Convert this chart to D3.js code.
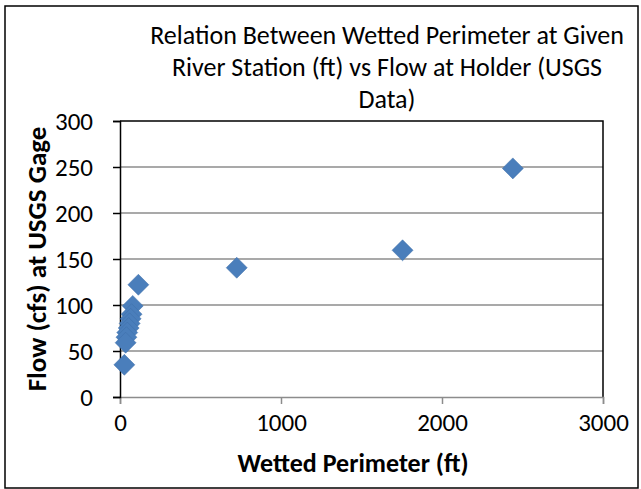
<!DOCTYPE html>
<html>
<head>
<meta charset="utf-8">
<script src="https://cdn.jsdelivr.net/npm/d3@7"></script>
<style>
body { margin: 0; background: #fff; }
text { font-family: Calibri, Carlito, Lato, sans-serif; fill: #000; }
</style>
</head>
<body>
<div class="scatter"></div>
<script>
var svgWidth = 641;
var svgHeight = 489;

var margin = { top: 121, right: 38, bottom: 92, left: 120 };

var width = svgWidth - margin.left - margin.right;
var height = svgHeight - margin.top - margin.bottom;

// data
var wettedPerimeter = [2440, 1755, 725, 114, 79, 72, 66, 60, 54, 45, 40, 35, 27];
var flow = [248.5, 159.5, 140.5, 122, 99, 90, 85, 80, 75, 70, 65, 59, 35];
var xTicks = [0, 1000, 2000, 3000];
var yTicks = [0, 50, 100, 150, 200, 250, 300];
var titleLines = ["Relation Between Wetted Perimeter at Given", "River Station (ft) vs Flow at Holder (USGS", "Data)"];

var points = wettedPerimeter.map((d, i) => ({ x: d, y: flow[i] }));

var svg = d3.select(".scatter")
    .append("svg")
    .attr("width", svgWidth)
    .attr("height", svgHeight);

// outer border
svg.append("rect")
    .attr("x", 5)
    .attr("y", 6)
    .attr("width", 633)
    .attr("height", 482)
    .attr("fill", "none")
    .attr("stroke", "#000")
    .attr("stroke-width", 1.5);

var chart = svg.append("g")
    .attr("transform", "translate(" + margin.left + "," + margin.top + ")");

var xLinearScale = d3.scaleLinear().domain([0, 3000]).range([0, width]);
var yLinearScale = d3.scaleLinear().domain([0, 300]).range([height, 0]);

// gridlines
chart.selectAll(".grid")
    .data(yTicks.filter(d => d > 0 && d < 300))
    .enter()
    .append("line")
    .attr("class", "grid")
    .attr("x1", 0)
    .attr("x2", width)
    .attr("y1", d => yLinearScale(d))
    .attr("y2", d => yLinearScale(d))
    .attr("stroke", "#8c8c8c")
    .attr("stroke-width", 1.5);

// plot border (top + right)
chart.append("path")
    .attr("d", `M0,${yLinearScale(300)}H${width}V${height}`)
    .attr("fill", "none")
    .attr("stroke", "#000")
    .attr("stroke-width", 1.5);

// x axis
var bottomAxis = d3.axisBottom(xLinearScale)
    .tickValues(xTicks)
    .tickFormat(d3.format("d"))
    .tickSize(7)
    .tickPadding(9);
var xAxis = chart.append("g")
    .attr("transform", `translate(0, ${height})`)
    .call(bottomAxis);
xAxis.select(".domain").attr("stroke", "#8c8c8c").attr("stroke-width", 1.5);
xAxis.selectAll(".tick line").attr("stroke", "#8c8c8c").attr("stroke-width", 1.5);
xAxis.selectAll("text").style("font-size", "25px");

// y axis
var leftAxis = d3.axisLeft(yLinearScale).tickValues(yTicks).tickSize(7).tickPadding(20);
var yAxis = chart.append("g").call(leftAxis);
yAxis.select(".domain").attr("stroke", "#000").attr("stroke-width", 1.5);
yAxis.selectAll(".tick line").attr("stroke", "#000").attr("stroke-width", 1.5);
yAxis.selectAll("text").style("font-size", "25px").attr("dy", "0.35em");

// points
chart.selectAll(".dataPoints")
    .data(points)
    .enter()
    .append("path")
    .attr("class", "dataPoints")
    .attr("d", "M0,-10.5L10.5,0L0,10.5L-10.5,0Z")
    .attr("transform", d => `translate(${xLinearScale(d.x)},${yLinearScale(d.y)})`)
    .attr("fill", "#4a7ebb")
    .attr("stroke", "#3f6fa8")
    .attr("stroke-width", 0.5);

// title
svg.selectAll(".title")
    .data(titleLines)
    .enter()
    .append("text")
    .attr("class", "title")
    .attr("x", 387)
    .attr("y", (d, i) => 44 + i * 32)
    .attr("text-anchor", "middle")
    .style("font-size", "26px")
    .text(d => d);

// x axis title
svg.append("text")
    .attr("x", 353)
    .attr("y", 472)
    .attr("text-anchor", "middle")
    .style("font-size", "26px")
    .style("font-weight", "bold")
    .text("Wetted Perimeter (ft)");

// y axis title
svg.append("text")
    .attr("transform", "translate(46, 259) rotate(-90)")
    .attr("text-anchor", "middle")
    .style("font-size", "27px")
    .style("font-weight", "bold")
    .text("Flow (cfs) at USGS Gage");
</script>
</body>
</html>
